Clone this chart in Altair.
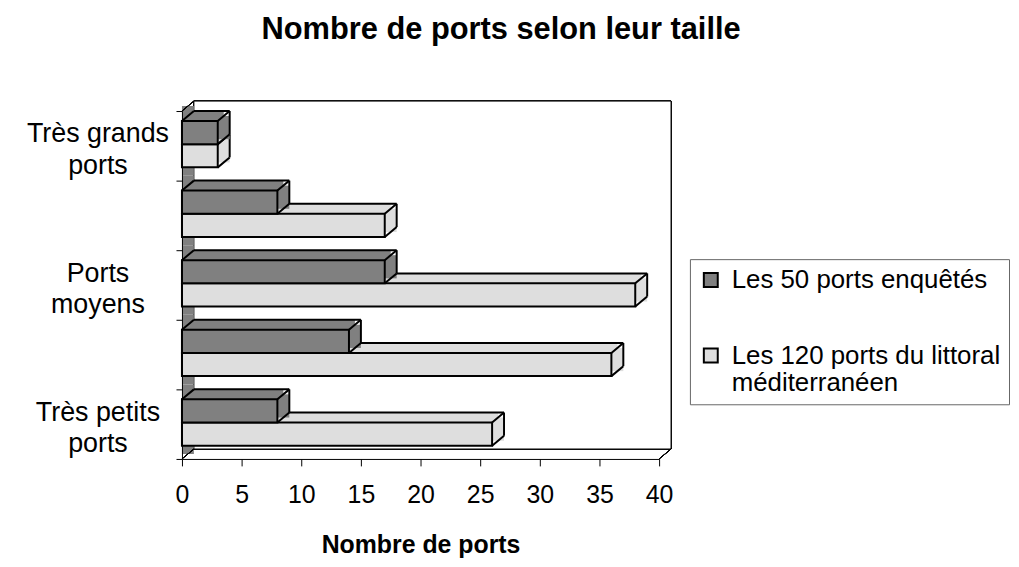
import altair as alt
import pandas as pd

# ---- data ----
categories = ["Très grands ports", "Grands ports", "Ports moyens", "Petits ports", "Très petits ports"]
labeled_categories = ["Très grands ports", "Ports moyens", "Très petits ports"]
series_names = ["Les 50 ports enquêtés", "Les 120 ports du littoral méditerranéen"]
enquetes = [3, 8, 17, 14, 8]
littoral = [3, 17, 38, 36, 26]
x_ticks = [0, 5, 10, 15, 20, 25, 30, 35, 40]
series_colors = ["#808080", "#dedede"]

FONT = "Liberation Sans"
DX, DY = 12, 10  # 3-D depth in pixels

rows = []
for i, c in enumerate(categories):
    rows.append({"cat": c, "series": series_names[0], "value": enquetes[i], "key": c + "|0"})
    rows.append({"cat": c, "series": series_names[1], "value": littoral[i], "key": c + "|1"})
df = pd.DataFrame(rows)
key_domain = []
for c in categories:
    key_domain += [c + "|0", c + "|1", c + "|_"]
cat_df = pd.DataFrame({"cat": categories})

xscale = alt.Scale(domain=[0, 40], nice=False, zero=True)
xaxis = alt.Axis(values=x_ticks, title="Nombre de ports", grid=False,
                 labelFont=FONT, labelFontSize=25, labelColor="black",
                 labelBaseline="alphabetic", labelPadding=37, labelFlush=False,
                 tickSize=7, tickColor="black", domainColor="black",
                 titleFont=FONT, titleFontSize=25, titleFontWeight="bold",
                 titleColor="black", titleBaseline="alphabetic", titleY=94)
XV = alt.X("value:Q", scale=xscale, axis=xaxis)
X0 = alt.XDatum(0, type="quantitative", scale=xscale, axis=xaxis)

kscale = alt.Scale(domain=key_domain, paddingInner=0, paddingOuter=0)
Yk0 = alt.Y("key:N", bandPosition=0, scale=kscale, axis=None)
Yk1 = alt.Y("key:N", bandPosition=1, scale=kscale, axis=None)
Y2k0 = alt.Y2("key", bandPosition=0)
Y2k1 = alt.Y2("key", bandPosition=1)

cscale = alt.Scale(domain=series_names, range=series_colors)
legend = alt.Legend(orient="none", legendX=511, legendY=149, title=None,
                    symbolType="square", symbolSize=196, symbolStrokeColor="black",
                    symbolStrokeWidth=2, labelFont=FONT, labelFontSize=26,
                    labelColor="black", labelLimit=400, labelOffset=8, padding=8,
                    strokeColor="#666666", rowPadding=50, labelBaseline="middle",
                    labelExpr="length(datum.label) > 30 ? [substring(datum.label, 0, lastindexof(datum.label, ' ')), substring(datum.label, lastindexof(datum.label, ' ') + 1)] : datum.label")
COLOR = alt.Color("series:N", scale=cscale, legend=legend)

yaxis = alt.Axis(title=None, grid=False, tickBand="extent", tickSize=6, tickColor="black",
                 domainColor="black", labelFont=FONT, labelFontSize=27, labelColor="black",
                 labelAlign="center", labelBaseline="middle", labelPadding=79,
                 labelLineHeight=32, labelOffset=-12, labelOverlap=False, labelLimit=300,
                 labelExpr="indexof(" + str(labeled_categories).replace('"', "'") +
                 ", datum.value) >= 0 ? [substring(datum.value, 0, lastindexof(datum.value, ' ')), substring(datum.value, lastindexof(datum.value, ' ') + 1)] : ''")
Ycat = alt.Y("cat:N", scale=alt.Scale(domain=categories, paddingInner=0, paddingOuter=0), axis=yaxis)

SW = 2

# ---- frame ----
base_cat = alt.Chart(cat_df)
back_wall = base_cat.mark_rect(fill="white", stroke="black", strokeWidth=1,
                               xOffset=DX, x2Offset=DX).encode(
    x=X0, x2=alt.datum(40), y=alt.value(-DY), y2=alt.value(350 - DY))
left_wall = base_cat.mark_rect(fill="#808080", x2Offset=DX, yOffset=-DY / 2, y2Offset=-DY / 2).encode(
    x=X0, x2=alt.datum(0), y=Ycat)
wall_top = base_cat.mark_rule(color="black", strokeWidth=1, x2Offset=DX).encode(
    x=X0, x2=alt.datum(0), y=alt.value(0), y2=alt.value(-DY))
wall_bot = base_cat.mark_rule(color="black", strokeWidth=1, x2Offset=DX).encode(
    x=X0, x2=alt.datum(0), y=alt.value(350), y2=alt.value(350 - DY))
floor_right = base_cat.mark_rule(color="black", strokeWidth=1, x2Offset=DX).encode(
    x=alt.XDatum(40, type="quantitative", scale=xscale, axis=xaxis), x2=alt.datum(40),
    y=alt.value(350), y2=alt.value(350 - DY))


def box(series):
    b = alt.Chart(df).transform_filter(alt.datum.series == series)
    top = b.mark_rect(xOffset=DX / 2, x2Offset=DX / 2, y2Offset=DY).encode(
        x=XV, x2=alt.datum(0), y=Yk0, y2=Y2k0, color=COLOR)
    right = b.mark_rect(x2Offset=DX, yOffset=DY / 2, y2Offset=DY / 2).encode(
        x=XV, x2=alt.X2("value"), y=Yk0, y2=Y2k1, color=COLOR)
    front = b.mark_rect(stroke="black", strokeWidth=SW, yOffset=DY, y2Offset=DY).encode(
        x=XV, x2=alt.datum(0), y=Yk0, y2=Y2k1, color=COLOR)
    r_top = b.mark_rule(color="black", strokeWidth=SW, xOffset=DX, x2Offset=DX).encode(
        x=XV, x2=alt.datum(0), y=Yk0)
    r_right = b.mark_rule(color="black", strokeWidth=SW, xOffset=DX).encode(
        x=XV, y=Yk0, y2=Y2k1)
    d_tl = b.mark_rule(color="black", strokeWidth=SW, x2Offset=DX, yOffset=DY).encode(
        x=X0, x2=alt.datum(0), y=Yk0, y2=Y2k0)
    d_tr = b.mark_rule(color="black", strokeWidth=SW, x2Offset=DX, yOffset=DY).encode(
        x=XV, x2=alt.X2("value"), y=Yk0, y2=Y2k0)
    d_br = b.mark_rule(color="black", strokeWidth=SW, x2Offset=DX, yOffset=DY).encode(
        x=XV, x2=alt.X2("value"), y=Yk1, y2=Y2k1)
    return [top, right, front, r_top, r_right, d_tl, d_tr, d_br]


layers = [back_wall, left_wall, wall_top, wall_bot, floor_right] + box(series_names[1]) + box(series_names[0])

chart = alt.layer(*layers).resolve_scale(y="independent").properties(
    width=480, height=350,
    padding={"left": 175, "top": 102, "right": 354, "bottom": 99},
    autosize=alt.AutoSizeParams(type="none"),
    title=alt.TitleParams("Nombre de ports selon leur taille", font=FONT, fontSize=31,
                          fontWeight="bold", color="black", anchor="middle", frame="group",
                          dx=81, offset=27, baseline="alphabetic"),
).configure_view(stroke=None)

chart.save("out.html", embed_options={"renderer": "svg", "actions": False})
